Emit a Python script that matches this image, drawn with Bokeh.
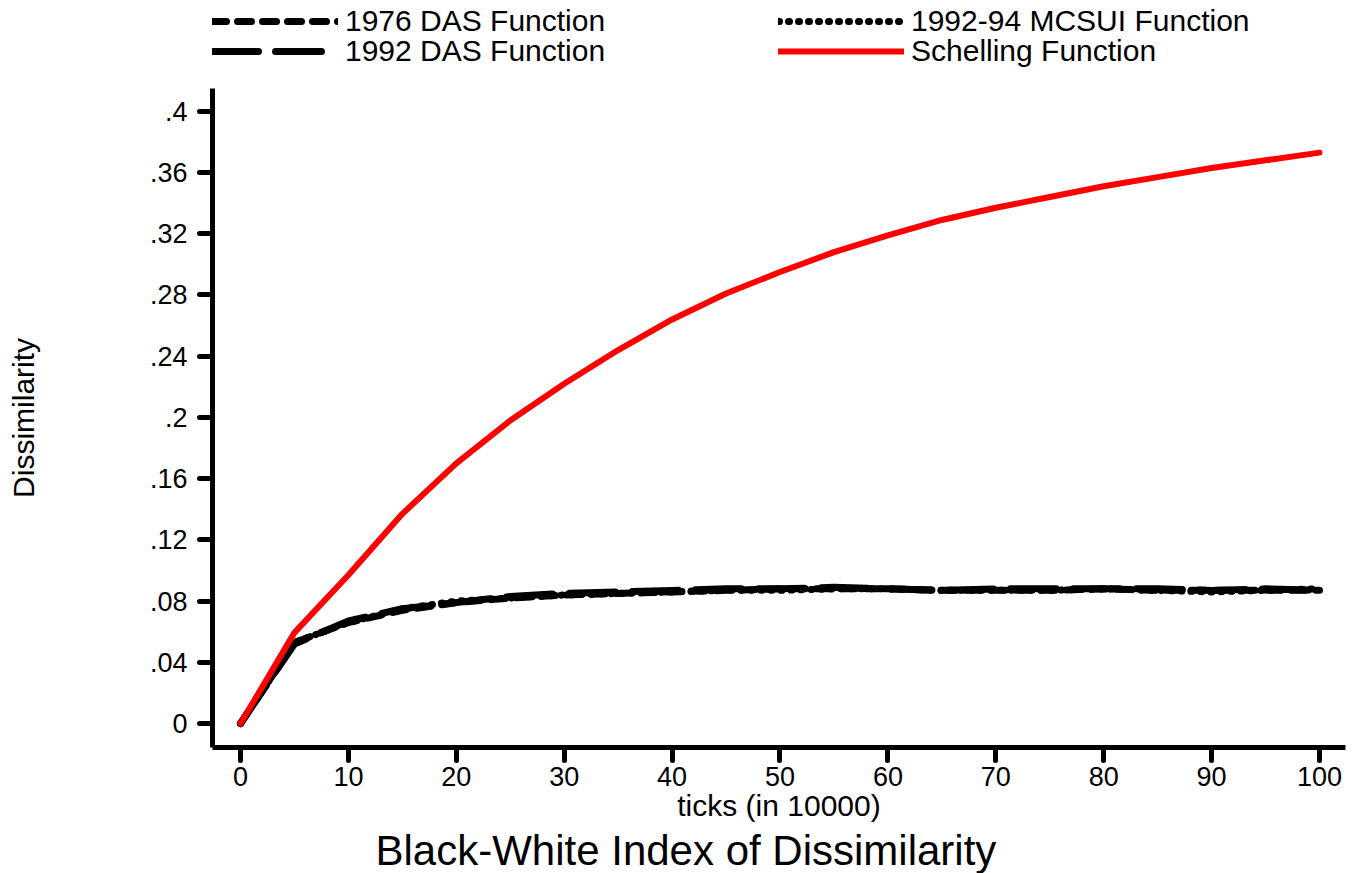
import math
from bokeh.plotting import figure
from bokeh.layouts import row
from bokeh.models import Range1d, FixedTicker, Legend, LegendItem, Title, Label
from bokeh.embed import file_html
from bokeh.resources import INLINE

# ---- data ----
ticks_x = [0, 5, 10, 15, 20, 25, 30, 35, 40, 45, 50, 55, 60, 65, 70, 75, 80, 85, 90, 95, 100]
das_1976 = [0, .053, .066, .074, .079, .082, .084, .085, .086, .087, .088, .088, .088, .087,
            .087, .087, .088, .087, .087, .087, .087]
das_1992 = [0, .052, .067, .075, .079, .083, .085, .086, .087, .088, .088, .089, .088, .087,
            .088, .088, .088, .088, .087, .088, .087]
mcsui_1992_94 = [0, .053, .066, .075, .080, .082, .084, .085, .086, .087, .087, .088, .088, .087,
                 .087, .087, .088, .087, .086, .087, .088]
schelling = [0, .0594, .097, .137, .170, .198, .222, .244, .264, .281, .295, .308, .319, .329,
             .337, .344, .351, .357, .363, .368, .373]

x_ticks = [0, 10, 20, 30, 40, 50, 60, 70, 80, 90, 100]
y_ticks = [0, 0.04, 0.08, 0.12, 0.16, 0.2, 0.24, 0.28, 0.32, 0.36, 0.4]
y_tick_labels = ["0", ".04", ".08", ".12", ".16", ".2", ".24", ".28", ".32", ".36", ".4"]

series_labels = ["1976 DAS Function", "1992 DAS Function", "1992-94 MCSUI Function", "Schelling Function"]
title_text = "Black-White Index of Dissimilarity"
x_title = "ticks (in 10000)"
y_title = "Dissimilarity"

FONT = "Liberation Sans"
LEFT_W = 50
BOTTOM = 125

# ---- narrow strip holding the y-axis title (its frame is aligned with the main frame) ----
side = figure(width=LEFT_W, height=873, output_backend="svg", toolbar_location=None,
              x_range=Range1d(0, LEFT_W), y_range=Range1d(0, 873 - BOTTOM),
              x_axis_type=None, y_axis_type=None,
              min_border_left=0, min_border_right=0, min_border_top=0, min_border_bottom=BOTTOM)
side.outline_line_color = None
side.grid.visible = False
side.add_layout(Label(x=23, y=873 - BOTTOM - 418, text=y_title, angle=math.pi / 2,
                      text_align="center", text_baseline="middle",
                      text_font_size="30px", text_font=FONT, text_color="black"))

# ---- main chart ----
Y0, Y1 = -0.01566, 0.4724
p = figure(width=1364 - LEFT_W, height=873, output_backend="svg", toolbar_location=None,
           x_range=Range1d(-2.595, 102.41), y_range=Range1d(Y0, Y1),
           min_border_left=212 - LEFT_W, min_border_right=19, min_border_top=0,
           min_border_bottom=BOTTOM)
p.outline_line_color = None
p.grid.visible = False
p.background_fill_color = "white"
p.border_fill_color = "white"

r1 = p.line(ticks_x, das_1976, line_color="black", line_width=7, line_dash="14 11", line_cap="round")
r2 = p.line(ticks_x, das_1992, line_color="black", line_width=7, line_dash="46 17", line_cap="round")
r3 = p.line(ticks_x, mcsui_1992_94, line_color="black", line_width=7, line_dash="1 9", line_cap="round")
r4 = p.line(ticks_x, schelling, line_color="#ff0000", line_width=6, line_cap="round", line_join="round")

def make_legend(label, rend, loc):
    return Legend(items=[LegendItem(label=label, renderers=[rend])], location=loc,
                  orientation="vertical", glyph_width=126, glyph_height=30, label_height=30,
                  label_standoff=7, spacing=0, padding=0, margin=0, border_line_color=None,
                  background_fill_alpha=0, label_text_font_size="30px",
                  label_text_font=FONT, label_text_color="black")

p.add_layout(make_legend(series_labels[0], r1, (0, 709)), "center")
p.add_layout(make_legend(series_labels[1], r2, (0, 679)), "center")
p.add_layout(make_legend(series_labels[2], r3, (566, 709)), "center")
p.add_layout(make_legend(series_labels[3], r4, (566, 679)), "center")

p.xaxis.ticker = FixedTicker(ticks=x_ticks)
p.yaxis.ticker = FixedTicker(ticks=y_ticks)
p.yaxis.major_label_overrides = dict(zip(y_ticks, y_tick_labels))
for ax in (p.xaxis[0], p.yaxis[0]):
    ax.axis_line_width = 5
    ax.axis_line_color = "black"
    ax.major_tick_line_width = 5
    ax.major_tick_line_color = "black"
    ax.major_tick_line_cap = "round"
    ax.major_tick_out = 13
    ax.major_tick_in = 0
    ax.minor_tick_out = 0
    ax.minor_tick_in = 0
    ax.major_label_text_font = FONT
    ax.major_label_text_font_size = "27px"
    ax.major_label_text_color = "black"
    ax.axis_label_text_font = FONT
    ax.axis_label_text_font_style = "normal"
    ax.axis_label_text_color = "black"

p.yaxis.bounds = (Y0, 0.415)
p.xaxis.axis_label_text_font_size = "30px"
p.xaxis.axis_label = x_title
p.yaxis.major_label_standoff = 12
p.xaxis.major_label_standoff = 6
p.xaxis.axis_label_standoff = 0

title = Title(text=title_text, align="left", offset=163, standoff=0,
              text_font_size="42px", text_font=FONT, text_font_style="normal",
              text_color="black")
p.add_layout(title, "below")

layout = row(side, p, spacing=0)
open("out.html", "w").write(file_html(layout, INLINE))
